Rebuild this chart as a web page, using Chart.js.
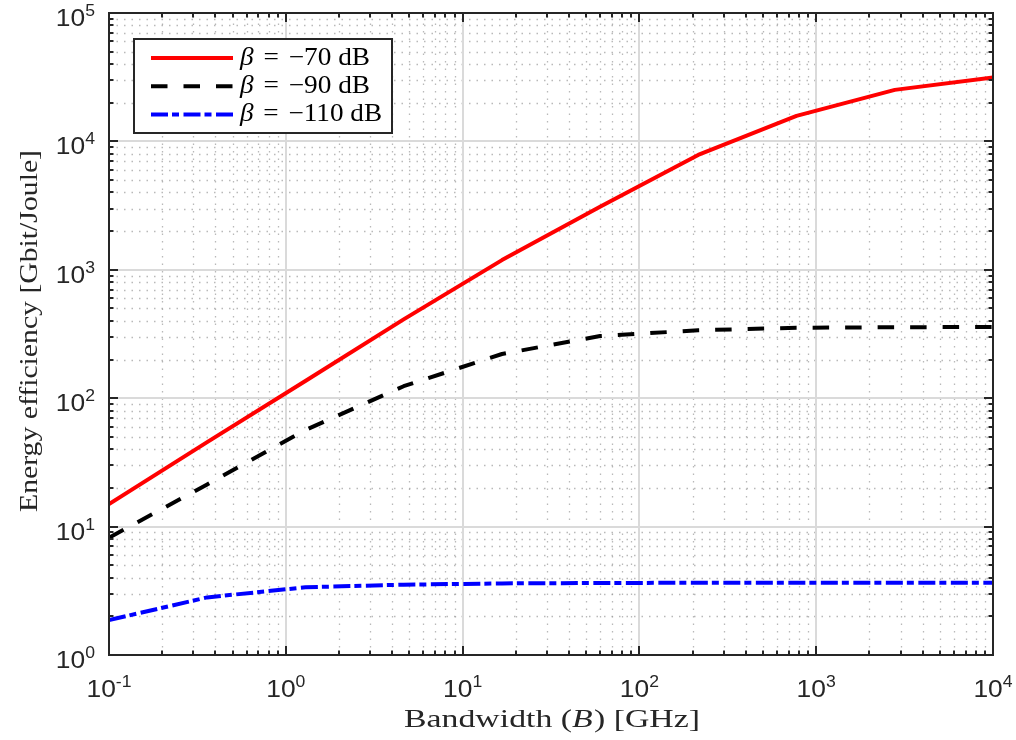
<!DOCTYPE html>
<html>
<head>
<meta charset="utf-8">
<title>Energy efficiency vs bandwidth</title>
<style>
html, body {
  margin: 0;
  padding: 0;
  background: #fff;
}
#wrap {
  width: 1016px;
  height: 740px;
}
</style>
</head>
<body>
<div id="wrap">
  <canvas id="myChart" width="1016" height="740"></canvas>
</div>
<script src="https://cdn.jsdelivr.net/npm/chart.js"></script>
<script>
// data (log-spaced bandwidth samples)
const bandwidthGHz = [0.1, 0.359, 1.29, 4.64, 16.7, 59.9, 215, 774, 2783, 10000];
const eeBeta70 = [15.0, 45.5, 136, 411, 1190, 3100, 7850, 15800, 25200, 31500];
const eeBeta90 = [8.2, 21.3, 56.5, 124, 221, 305, 338, 354, 357, 359];
const eeBeta110 = [1.87, 2.81, 3.37, 3.53, 3.61, 3.64, 3.65, 3.65, 3.65, 3.65];
const betaLabels = ['\u221270 dB', '\u221290 dB', '\u2212110 dB'];
const xTickExps = [-1, 0, 1, 2, 3, 4];
const yTickExps = [0, 1, 2, 3, 4, 5];

const TICK_FONT = '"Liberation Sans", Arial, sans-serif';
const TEXT_FONT = '"Liberation Serif", "Times New Roman", serif';
const INK = '#262626';

function toPoints(ys) {
  return bandwidthGHz.map((b, i) => ({x: b, y: ys[i]}));
}

function minorValues(exps) {
  const out = [];
  for (let n = exps[0]; n < exps[exps.length - 1]; n++) {
    for (let k = 2; k <= 9; k++) out.push(k * Math.pow(10, n));
  }
  return out;
}

// "10" with a raised exponent, like matlab's tick labels
function drawPow(ctx, exp, px, baseY, align) {
  const sx = 1.1;
  ctx.font = '24px ' + TICK_FONT;
  const wb = ctx.measureText('10').width;
  ctx.font = '16px ' + TICK_FONT;
  const ws = ctx.measureText(String(exp)).width;
  const w = (wb + ws) * sx;
  const left = align === 'center' ? px - w / 2 : px - w;
  ctx.save();
  ctx.translate(left, 0);
  ctx.scale(sx, 1);
  ctx.textAlign = 'left';
  ctx.textBaseline = 'alphabetic';
  ctx.font = '24px ' + TICK_FONT;
  ctx.fillText('10', 0, baseY);
  ctx.font = '16px ' + TICK_FONT;
  ctx.fillText(String(exp), wb, baseY - 10);
  ctx.restore();
}

// mixed-font text run stretched to a target width (computer modern is wide)
function drawRun(ctx, parts, targetW, align) {
  let natural = 0;
  parts.forEach(p => {
    ctx.font = p.font;
    p.w = ctx.measureText(p.t).width;
    natural += p.w + (p.gap || 0);
  });
  const sx = targetW / natural;
  ctx.save();
  ctx.scale(sx, 1);
  let cur = align === 'left' ? 0 : -natural / 2;
  parts.forEach(p => {
    ctx.font = p.font;
    ctx.fillText(p.t, cur, 0);
    cur += p.w + (p.gap || 0);
  });
  ctx.restore();
}

const matlabAxes = {
  id: 'matlabAxes',
  beforeDatasetsDraw(chart) {
    const {ctx, chartArea: a, scales: {x, y}} = chart;
    ctx.save();
    ctx.beginPath();
    ctx.rect(a.left, a.top, a.right - a.left, a.bottom - a.top);
    ctx.clip();

    // minor dotted grid
    ctx.strokeStyle = 'rgba(155,155,155,0.7)';
    ctx.lineWidth = 1.3;
    ctx.setLineDash([1.5, 6]);
    minorValues(xTickExps).forEach(v => {
      const px = Math.round(x.getPixelForValue(v)) + 0.5;
      ctx.beginPath(); ctx.moveTo(px, a.bottom); ctx.lineTo(px, a.top); ctx.stroke();
    });
    minorValues(yTickExps).forEach(v => {
      const py = Math.round(y.getPixelForValue(v)) + 0.5;
      ctx.beginPath(); ctx.moveTo(a.left, py); ctx.lineTo(a.right, py); ctx.stroke();
    });

    // major solid grid
    ctx.setLineDash([]);
    ctx.strokeStyle = '#dadada';
    ctx.lineWidth = 2;
    xTickExps.forEach(e => {
      const px = Math.round(x.getPixelForValue(Math.pow(10, e)));
      ctx.beginPath(); ctx.moveTo(px, a.bottom); ctx.lineTo(px, a.top); ctx.stroke();
    });
    yTickExps.forEach(e => {
      const py = Math.round(y.getPixelForValue(Math.pow(10, e)));
      ctx.beginPath(); ctx.moveTo(a.left, py); ctx.lineTo(a.right, py); ctx.stroke();
    });
    ctx.restore();
  },
  afterDatasetsDraw(chart) {
    const {ctx, chartArea: a, scales: {x, y}} = chart;
    ctx.save();

    // box
    ctx.strokeStyle = INK;
    ctx.lineWidth = 2;
    ctx.strokeRect(a.left, a.top, a.right - a.left, a.bottom - a.top);

    // inward ticks on all four sides
    const tick = (x0, y0, x1, y1) => {
      ctx.beginPath(); ctx.moveTo(x0, y0); ctx.lineTo(x1, y1); ctx.stroke();
    };
    const xMajor = xTickExps.map(e => Math.pow(10, e));
    const yMajor = yTickExps.map(e => Math.pow(10, e));
    [[xMajor, 9], [minorValues(xTickExps), 4.5]].forEach(([vals, len]) => {
      vals.forEach(v => {
        const px = Math.round(x.getPixelForValue(v));
        tick(px, a.bottom, px, a.bottom - len);
        tick(px, a.top, px, a.top + len);
      });
    });
    [[yMajor, 9], [minorValues(yTickExps), 4.5]].forEach(([vals, len]) => {
      vals.forEach(v => {
        const py = Math.round(y.getPixelForValue(v));
        tick(a.left, py, a.left + len, py);
        tick(a.right, py, a.right - len, py);
      });
    });

    // tick labels
    ctx.fillStyle = INK;
    xTickExps.forEach(e => {
      drawPow(ctx, e, x.getPixelForValue(Math.pow(10, e)), a.bottom + 42, 'center');
    });
    yTickExps.forEach(e => {
      const py = y.getPixelForValue(Math.pow(10, e));
      drawPow(ctx, e, a.left - 14, py + 13, 'right');
    });

    // axis titles
    const serif = '26px ' + TEXT_FONT;
    const serifIt = 'italic 26px ' + TEXT_FONT;
    ctx.textAlign = 'left';
    ctx.textBaseline = 'alphabetic';
    ctx.save();
    ctx.translate(552, 727);
    drawRun(ctx, [
      {t: 'Bandwidth (', font: serif},
      {t: 'B', font: serifIt, gap: 1},
      {t: ') [GHz]', font: serif}
    ], 296, 'center');
    ctx.restore();

    ctx.save();
    ctx.translate(37, 331);
    ctx.rotate(-Math.PI / 2);
    drawRun(ctx, [{t: 'Energy efficiency [Gbit/Joule]', font: serif}], 362, 'center');
    ctx.restore();

    // legend
    const lx = 134, ly = 39, lw = 258, lh = 94;
    ctx.fillStyle = '#fff';
    ctx.fillRect(lx, ly, lw, lh);
    ctx.strokeStyle = INK;
    ctx.lineWidth = 2;
    ctx.strokeRect(lx, ly, lw, lh);
    const legFont = '25px ' + TEXT_FONT;
    const legIt = 'italic 25px ' + TEXT_FONT;
    const legWidths = [130, 130, 142];
    chart.data.datasets.forEach((ds, i) => {
      const ry = 58 + i * 28.2;
      ctx.save();
      ctx.strokeStyle = ds.borderColor;
      ctx.lineWidth = ds.borderWidth;
      ctx.lineCap = 'butt';
      ctx.setLineDash(ds.borderDash || []);
      ctx.beginPath(); ctx.moveTo(151, ry); ctx.lineTo(233, ry); ctx.stroke();
      ctx.restore();
      ctx.save();
      ctx.fillStyle = '#000';
      ctx.translate(240, ry + 7);
      drawRun(ctx, [
        {t: '\u03b2', font: legIt, gap: 9},
        {t: '=', font: legFont, gap: 9},
        {t: betaLabels[i], font: legFont}
      ], legWidths[i], 'left');
      ctx.restore();
    });

    ctx.restore();
  }
};

const data = {
  datasets: [{
    label: betaLabels[0],
    data: toPoints(eeBeta70),
    borderColor: '#ff0000',
    borderWidth: 4
  }, {
    label: betaLabels[1],
    data: toPoints(eeBeta90),
    borderColor: '#000000',
    borderWidth: 4,
    borderDash: [16.5, 16]
  }, {
    label: betaLabels[2],
    data: toPoints(eeBeta110),
    borderColor: '#0000ff',
    borderWidth: 4,
    borderDash: [17, 4, 7, 4.5]
  }]
};

const config = {
  type: 'line',
  data,
  options: {
    responsive: false,
    animation: false,
    devicePixelRatio: 1,
    layout: {padding: {left: 0, right: 23, top: 13, bottom: 0}},
    elements: {
      point: {radius: 0, hoverRadius: 0},
      line: {tension: 0, borderCapStyle: 'butt', borderJoinStyle: 'round', fill: false}
    },
    plugins: {
      legend: {display: false},
      tooltip: {enabled: false}
    },
    scales: {
      x: {
        type: 'logarithmic',
        min: 0.1,
        max: 10000,
        ticks: {display: false},
        grid: {display: false},
        border: {display: false},
        afterFit: s => { s.height = 85; }
      },
      y: {
        type: 'logarithmic',
        min: 1,
        max: 100000,
        ticks: {display: false},
        grid: {display: false},
        border: {display: false},
        afterFit: s => { s.width = 109; }
      }
    }
  },
  plugins: [matlabAxes]
};

const myChart = new Chart(document.getElementById('myChart'), config);
</script>
</body>
</html>
